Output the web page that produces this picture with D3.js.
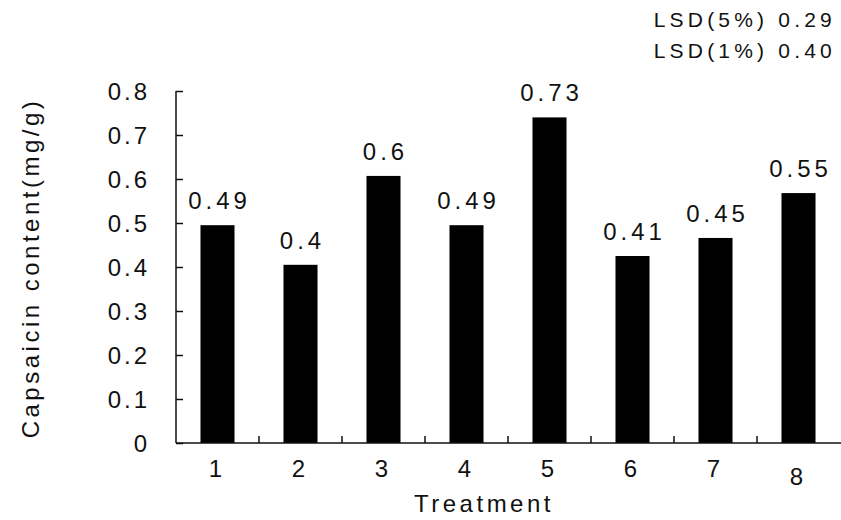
<!DOCTYPE html>
<html lang="en">
<head>
<meta charset="utf-8">
<title>Capsaicin content</title>
<style type="text/css">
  body { margin: 0; background: #fff; }
  svg { display: block; font-family: "Liberation Sans", Arial, sans-serif; fill: #111; }
</style>
<script src="https://cdnjs.cloudflare.com/ajax/libs/d3/7.8.5/d3.min.js"></script>
</head>
<body>
<div id="chart"></div>
<script>
// data
var treatments = ["1", "2", "3", "4", "5", "6", "7", "8"];
var barValues = [0.495, 0.405, 0.607, 0.495, 0.74, 0.425, 0.466, 0.568];
var barLabels = ["0.49", "0.4", "0.6", "0.49", "0.73", "0.41", "0.45", "0.55"];
var yTicks = [0, 0.1, 0.2, 0.3, 0.4, 0.5, 0.6, 0.7, 0.8];
var lsdLines = ["LSD(5%) 0.29", "LSD(1%) 0.40"];

var w = 841, h = 520;
var plotLeft = 176, plotRight = 841, plotTop = 91, plotBottom = 443;

var svg = d3.select("#chart").append("svg")
  .attr("width", w)
  .attr("height", h);

var x = d3.scaleBand()
  .domain(treatments)
  .range([plotLeft, plotLeft + 83 * treatments.length])
  .paddingInner(0.59)
  .paddingOuter(0.295);

var y = d3.scaleLinear()
  .domain([0, 0.8])
  .range([plotBottom, plotTop]);

// bars
svg.selectAll("rect.bar")
  .data(barValues)
  .enter().append("rect")
  .attr("class", "bar")
  .attr("x", function(d, i) { return x(treatments[i]); })
  .attr("y", function(d) { return y(d); })
  .attr("width", x.bandwidth())
  .attr("height", function(d) { return plotBottom - y(d); })
  .attr("fill", "#000");

// value labels
svg.selectAll("text.val")
  .data(barValues)
  .enter().append("text")
  .attr("class", "val")
  .attr("x", function(d, i) { return x(treatments[i]) + x.bandwidth() / 2 + 2; })
  .attr("y", function(d) { return y(d) - 16; })
  .attr("text-anchor", "middle")
  .style("font-size", "24px")
  .style("letter-spacing", "4px")
  .text(function(d, i) { return barLabels[i]; });

// y axis: ticks point inward
var yAxis = svg.append("g")
  .attr("transform", "translate(" + plotLeft + ",0)")
  .call(d3.axisRight(y).tickValues(yTicks).tickSize(7).tickFormat(""));
yAxis.select(".domain").attr("d", "M0," + plotTop + "V" + plotBottom);
yAxis.selectAll("path, line").attr("stroke", "#111").attr("stroke-width", 1.5);

svg.selectAll("text.ytick")
  .data(yTicks)
  .enter().append("text")
  .attr("class", "ytick")
  .attr("x", 150)
  .attr("y", function(d) { return y(d) + 9; })
  .attr("text-anchor", "end")
  .style("font-size", "24px")
  .style("letter-spacing", "3px")
  .text(function(d) { return d === 0 ? "0" : d3.format(".1f")(d); });

// x axis: baseline with small upward ticks between bars
var bounds = treatments.slice(1).map(function(t) { return x(t) - x.step() * x.paddingInner() / 2; });
svg.append("line")
  .attr("x1", plotLeft).attr("x2", plotRight)
  .attr("y1", plotBottom).attr("y2", plotBottom)
  .attr("stroke", "#111").attr("stroke-width", 1.5);
svg.selectAll("line.xtick")
  .data(bounds)
  .enter().append("line")
  .attr("class", "xtick")
  .attr("x1", function(d) { return d; })
  .attr("x2", function(d) { return d; })
  .attr("y1", plotBottom)
  .attr("y2", plotBottom - 7)
  .attr("stroke", "#111").attr("stroke-width", 1.5);

svg.selectAll("text.xtick")
  .data(treatments)
  .enter().append("text")
  .attr("class", "xtick")
  .attr("x", function(d) { return x(d) + x.bandwidth() / 2 - 2; })
  .attr("y", function(d, i) { return i === 7 ? 485 : 477; })
  .attr("text-anchor", "middle")
  .style("font-size", "24px")
  .text(function(d) { return d; });

// axis titles
svg.append("text")
  .attr("x", 484)
  .attr("y", 512)
  .attr("text-anchor", "middle")
  .style("font-size", "24px")
  .style("letter-spacing", "3.5px")
  .text("Treatment");

svg.append("text")
  .attr("transform", "translate(39,268) rotate(-90)")
  .attr("text-anchor", "middle")
  .style("font-size", "24px")
  .style("letter-spacing", "3.5px")
  .text("Capsaicin content(mg/g)");

// LSD note
svg.selectAll("text.lsd")
  .data(lsdLines)
  .enter().append("text")
  .attr("class", "lsd")
  .attr("x", 836)
  .attr("y", function(d, i) { return 27 + i * 31; })
  .attr("text-anchor", "end")
  .style("font-size", "21px")
  .style("letter-spacing", "4.2px")
  .text(function(d) { return d; });
</script>
</body>
</html>
